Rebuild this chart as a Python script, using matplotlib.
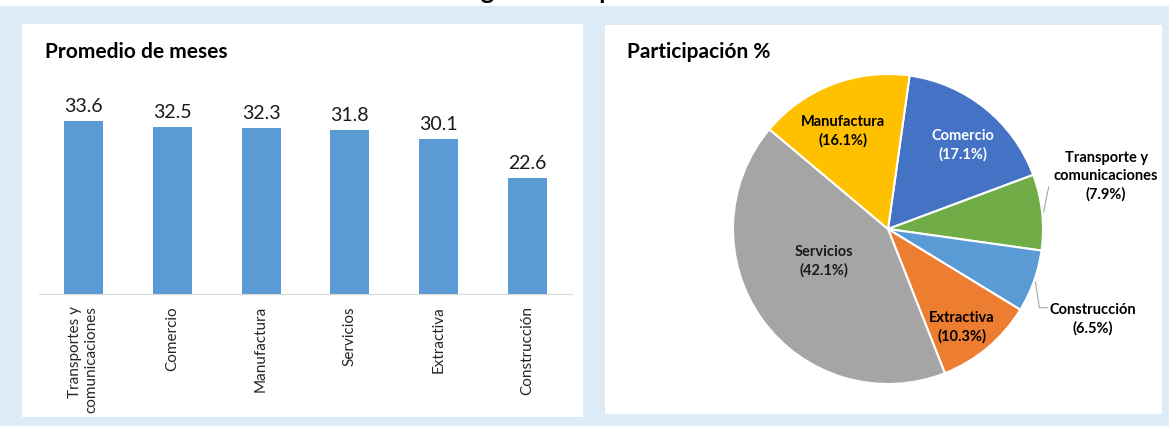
import matplotlib.pyplot as plt
import numpy as np
from matplotlib.patches import Rectangle

plt.rcParams['font.family'] = ['Lato', 'DejaVu Sans']

# data
bar_categories = ['Transportes y\ncomunicaciones', 'Comercio', 'Manufactura',
                  'Servicios', 'Extractiva', 'Construcción']
bar_values = [33.6, 32.5, 32.3, 31.8, 30.1, 22.6]

pie_labels = ['Comercio', 'Transporte y\ncomunicaciones', 'Construcción',
              'Extractiva', 'Servicios', 'Manufactura']
pie_values = [17.1, 7.9, 6.5, 10.3, 42.1, 16.1]
pie_colors = ['#4472C4', '#70AD47', '#5B9BD5', '#ED7D31', '#A5A5A5', '#FFC000']

W, H = 1169, 427
fig = plt.figure(figsize=(W / 100, H / 100), dpi=100)
fig.patch.set_facecolor('#DDEBF7')


def px_rect(x0, y0, x1, y1, color):
    # rectangle given in pixel coords measured from the top-left corner
    fig.add_artist(Rectangle((x0 / W, 1 - y1 / H), (x1 - x0) / W, (y1 - y0) / H,
                             transform=fig.transFigure, facecolor=color,
                             edgecolor='none', zorder=-1))


px_rect(0, 0, W, 7, 'white')
px_rect(22, 25, 583, 418, 'white')
px_rect(605, 26, 1162, 415, 'white')

# title cut off at the top of the image (only its lowest part shows, as in the source)
fig.text(595 / W, 1 + 1.5 / H, 'Seguimiento por sectores', ha='center', va='baseline',
         fontsize=18, fontweight='bold')

# --- bar chart ---
fig.text(45 / W, 1 - 52 / H, 'Promedio de meses', fontsize=15, fontweight='bold', va='center')
ax1 = fig.add_axes([39 / W, (H - 295) / H, (572 - 39) / W, 206 / H])
ax1.set_facecolor('none')
x = np.arange(len(bar_categories))
bars = ax1.bar(x, bar_values, width=0.44, color='#5B9BD5')
ax1.bar_label(bars, fmt='%.1f', padding=5, fontsize=14, color='#1a1a1a')
ax1.set_xlim(-0.5, len(bar_categories) - 0.5)
ax1.set_ylim(0, 40)
ax1.set_xticks(x)
ax1.set_xticklabels(bar_categories, rotation=90, fontsize=11, color='#262626')
for lbl in ax1.get_xticklabels():
    lbl.set_multialignment('right')
ax1.tick_params(axis='x', length=0, pad=8)
ax1.set_yticks([])
for s in ['top', 'right', 'left']:
    ax1.spines[s].set_visible(False)
ax1.spines['bottom'].set_color('#D9D9D9')

# --- pie chart ---
fig.text(627 / W, 1 - 52 / H, 'Participación %', fontsize=15, fontweight='bold', va='center')
R = 155  # pie radius in pixels
ax2 = fig.add_axes([(888 - 200) / W, (H - 230 - 200) / H, 400 / W, 400 / H])
wedges, _ = ax2.pie(pie_values, colors=pie_colors, startangle=82, counterclock=False,
                    wedgeprops=dict(edgecolor='white', linewidth=1.5))
ax2.set_xlim(-200 / R, 200 / R)
ax2.set_ylim(-200 / R, 200 / R)

label_r = [0.73, 1.45, 1.44, 0.79, 0.46, 0.70]
label_shift = [-3, 7.7, -4, -2.8, -9.9, 3.4]
label_colors = ['white', 'black', 'black', 'black', '#1a1a1a', 'black']
for w, lab, v, r, sh, c in zip(wedges, pie_labels, pie_values, label_r, label_shift, label_colors):
    mid = np.radians((w.theta1 + w.theta2) / 2 + sh)
    ax2.text(r * np.cos(mid), r * np.sin(mid), f'{lab}\n({v}%)', ha='center', va='center',
             fontsize=10.5, fontweight='bold', color=c, linespacing=1.35)

# leader lines for the two outside labels
for idx, (dx, dy) in zip([1, 2], [(5, 25), (4, -26)]):
    w = wedges[idx]
    mid = np.radians((w.theta1 + w.theta2) / 2)
    x0, y0 = 1.01 * np.cos(mid), 1.01 * np.sin(mid)
    xs = [x0, x0 + dx / R]
    ys = [y0, y0 + dy / R]
    if idx == 2:
        xs.append(xs[-1] + 8 / R)
        ys.append(ys[-1])
    ax2.plot(xs, ys, color='#A6A6A6', lw=0.8)

fig.savefig('out.png', dpi=100, facecolor=fig.get_facecolor())
